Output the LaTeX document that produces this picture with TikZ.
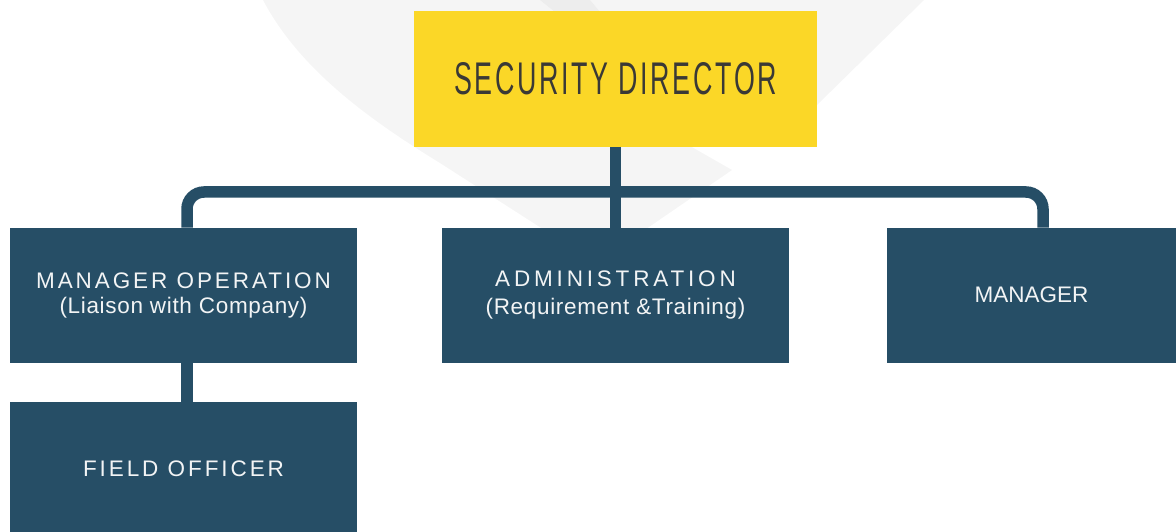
\documentclass[tikz,border=0pt]{standalone}
\usepackage{fontspec}
\setmainfont{Liberation Sans}
\newfontfamily\trackA[LetterSpace=13]{Liberation Sans}
\newfontfamily\trackB[LetterSpace=17]{Liberation Sans}
\newfontfamily\trackC[LetterSpace=3]{Liberation Sans}
\newfontfamily\trackT[LetterSpace=10]{Liberation Sans}
\definecolor{navy}{HTML}{264E66}
\definecolor{gold}{HTML}{FBD727}
\definecolor{darktext}{HTML}{3A3936}
\definecolor{boxtext}{HTML}{F2F4F5}
\definecolor{wmark}{HTML}{F5F5F5}
\definecolor{wmarkdark}{HTML}{EDEDED}
\begin{document}
\begin{tikzpicture}[x=1pt,y=-1pt,
  box/.style={rectangle, fill=navy, inner sep=0pt, outer sep=0pt,
    minimum width=347pt, minimum height=135pt, text=boxtext, align=center,
    font=\fontsize{22.5pt}{22pt}\selectfont},
  topbox/.style={rectangle, fill=gold, inner sep=0pt, outer sep=0pt,
    minimum width=403pt, minimum height=136pt, text=darktext},
  conn/.style={draw=navy, line width=11.5pt}]
\useasboundingbox (0,0) rectangle (1176,532);
\clip (0,0) rectangle (1176,532);
% faint watermark
\fill[wmark] (263,0) .. controls (300,70) and (370,120) .. (440,163) -- (560,240)
  -- (630,240) -- (732,170) -- (690,146) -- (780,140) -- (817,105) -- (924,0) -- cycle;
\fill[wmarkdark] (540,0) -- (590,0) -- (600,12) -- (555,12) -- cycle;
% nodes
\node[topbox] (sd) at (615.5,79) {\raisebox{-2pt}{\resizebox{323pt}{32pt}{\fontsize{40pt}{40pt}\selectfont\trackT SECURITY DIRECTOR}}};
\node[box] (mo) at (183.5,295) {{\trackA MANAGER OPERATION}\\[3pt]{\trackC (Liaison with Company)}};
\node[box] (adm) at (615.5,295) {{\trackB ADMINISTRATION}\\[6pt]{\trackC (Requirement \&Training)}};
\node[box, minimum width=289pt] (mgr) at (1031.5,295) {MANAGER};
\node[box, minimum height=134pt] (fo) at (183.5,469) {\trackA FIELD OFFICER};
% connectors
\draw[conn] (sd.south) -- (adm.north);
\draw[conn, rounded corners=17pt] ([xshift=3.5pt]mo.north) |- ([yshift=-45pt]sd.south) -| ([xshift=11.5pt]mgr.north);
\draw[conn] ([xshift=3.5pt]mo.south) -- ([xshift=3.5pt]fo.north);
\end{tikzpicture}
\end{document}
